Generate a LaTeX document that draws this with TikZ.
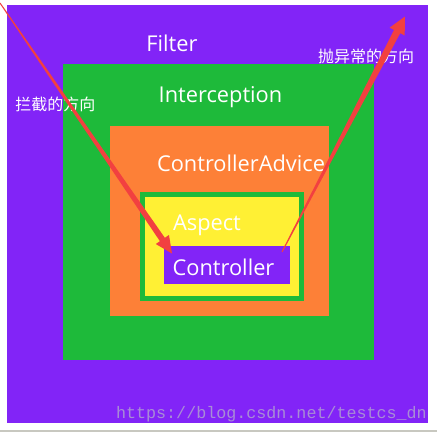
\documentclass[tikz,border=0pt]{standalone}
\usepackage{fontspec}
\setmainfont{Open Sans}
\newfontfamily\cjkfont{Noto Sans CJK SC}
\newfontfamily\wmfont{Liberation Mono}
\usetikzlibrary{calc}
\definecolor{cpurple}{RGB}{130,36,247}
\definecolor{cgreen}{RGB}{30,186,58}
\definecolor{corange}{RGB}{253,128,55}
\definecolor{cyellow}{RGB}{255,240,52}
\definecolor{cred}{RGB}{242,64,64}
\definecolor{cwm}{RGB}{168,140,214}
\definecolor{cline}{RGB}{200,200,192}
\begin{document}
\begin{tikzpicture}[x=1pt,y=-1pt,
  box/.style={rectangle, inner sep=0pt, outer sep=0pt, anchor=north west},
  lbl/.style={text=white, inner sep=0pt, anchor=base, font=\fontsize{21.8}{21.8}\selectfont},
  cjk/.style={text=white, inner sep=0pt, font=\cjkfont\fontsize{16}{16}\selectfont},
  arrowfill/.style={fill=cred}]
\useasboundingbox (0,0) rectangle (437,432);
\fill[white] (0,0) rectangle (437,432);
\fill[cline] (0,430) rectangle (437,432);

\node[box, fill=cpurple, minimum width=421pt, minimum height=418pt] (filter) at (7,5) {};
\node[box, fill=cgreen, minimum width=311pt, minimum height=296pt] (interception) at (63,64) {};
\node[box, fill=corange, minimum width=219pt, minimum height=190pt] (advice) at (110,126) {};
\node[box, fill=cyellow, draw=cgreen, line width=5pt, minimum width=159pt, minimum height=104pt] (aspect) at (142.5,194.5) {};
\node[box, fill=cpurple, minimum width=126pt, minimum height=38pt] (controller) at (164,246) {};

\node[lbl] (tfilter) at (172,51) {Filter};
\node[lbl] (tinter) at (220.5,102) {Interception};
\node[lbl] (tadvice) at (241,171) {ControllerAdvice};
\node[lbl] (taspect) at (207,230.5) {Aspect};
\node[lbl] (tcontroller) at (223.5,275.5) {Controller};

\node[cjk] (tin) at (55.5,104.5) {拦截的方向};
\node[cjk] (tout) at (366,56.5) {抛异常的方向};

\node[text=cwm, inner sep=0pt, anchor=base east, font=\wmfont\fontsize{16.7}{16.7}\selectfont] (wm) at (427,418) {https://blog.csdn.net/testcs\_dn};

% arrow 1: inward
\coordinate (s1) at (0,3);
\coordinate (t1) at ($(controller.north west)+(8,7.5)$);
\coordinate (b1) at ($(t1)!17pt!(s1)$);
\fill[arrowfill] ($(s1)!0.5pt!90:(t1)$) -- ($(b1)!3pt!-90:(s1)$) -- ($(b1)!8pt!-90:(s1)$) -- (t1)
  -- ($(b1)!8pt!90:(s1)$) -- ($(b1)!3pt!90:(s1)$) -- ($(s1)!0.5pt!-90:(t1)$) -- cycle;

% arrow 2: outward
\coordinate (s2) at ($(controller.north east)+(-8,6)$);
\coordinate (t2) at (405,16.5);
\coordinate (b2) at ($(t2)!17pt!(s2)$);
\fill[arrowfill] ($(s2)!0.5pt!90:(t2)$) -- ($(b2)!3.5pt!-90:(s2)$) -- ($(b2)!8.5pt!-90:(s2)$) -- (t2)
  -- ($(b2)!8.5pt!90:(s2)$) -- ($(b2)!3.5pt!90:(s2)$) -- ($(s2)!0.5pt!-90:(t2)$) -- cycle;
\end{tikzpicture}
\end{document}
